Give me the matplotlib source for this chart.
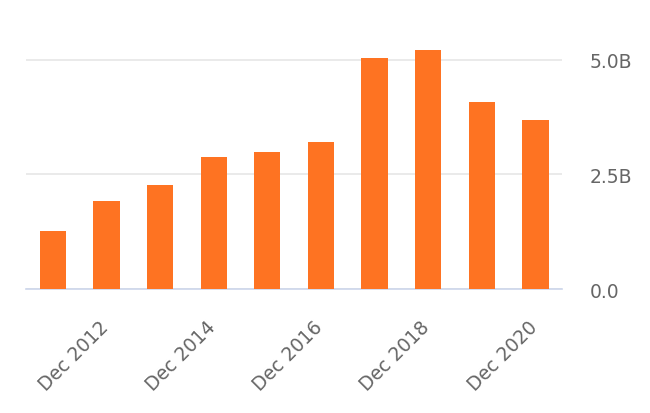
import numpy as np
import matplotlib.pyplot as plt
from matplotlib.transforms import ScaledTranslation

# yearly values, billions
periods = ["Dec 2011", "Dec 2012", "Dec 2013", "Dec 2014", "Dec 2015",
           "Dec 2016", "Dec 2017", "Dec 2018", "Dec 2019", "Dec 2020"]
values = [1.26, 1.91, 2.26, 2.87, 2.99, 3.20, 5.03, 5.21, 4.08, 3.69]
yticks = [0.0, 2.5, 5.0]
ytick_labels = ["0.0", "2.5B", "5.0B"]

plt.rcParams['font.family'] = ['DejaVu Sans']

fig = plt.figure(figsize=(6.5, 4.14), dpi=100)
ax = fig.add_axes([0.04, 0.2995, 0.825, 0.609])

x = np.arange(len(periods))
ax.bar(x, values, width=0.49, color='#fe7322', zorder=3)

ax.set_xlim(-0.5, len(periods) - 0.5)
ax.set_ylim(0, 5.5)

ax.set_yticks(yticks)
ax.set_yticklabels(ytick_labels)
ax.yaxis.tick_right()
ax.tick_params(axis='y', length=0, pad=20, labelsize=13.5, labelcolor='#666666')
for lbl in ax.get_yticklabels():
    lbl.set_horizontalalignment('left')
ax.grid(axis='y', color='#e6e6e6', linewidth=1.2, zorder=0)

ax.set_xticks(x[1::2])
ax.set_xticklabels(periods[1::2], rotation=45, ha='right', rotation_mode='anchor')
ax.tick_params(axis='x', length=0, pad=20, labelsize=13.5, labelcolor='#666666')
shift = ScaledTranslation(-0.08, 0, fig.dpi_scale_trans)
for lbl in ax.get_xticklabels():
    lbl.set_transform(lbl.get_transform() + shift)

for side in ['top', 'right', 'left']:
    ax.spines[side].set_visible(False)
ax.spines['bottom'].set_color('#ccd6eb')
ax.spines['bottom'].set_linewidth(1.2)

fig.savefig('out.png', dpi=100)
